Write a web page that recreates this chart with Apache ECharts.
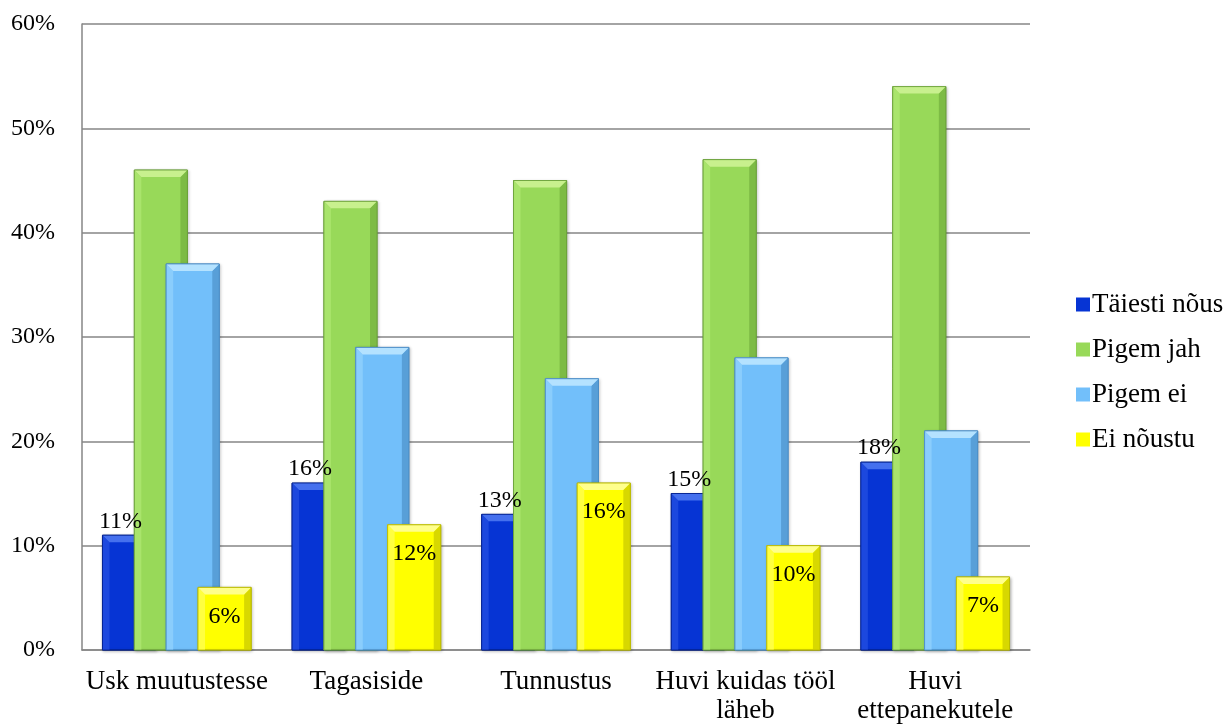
<!DOCTYPE html>
<html>
<head>
<meta charset="utf-8">
<script src="https://cdn.jsdelivr.net/npm/echarts@6/dist/echarts.min.js"></script>
<style>
  html, body { margin: 0; padding: 0; background: #fff; }
  #chart { width: 1225px; height: 725px; }
</style>
</head>
<body>
<div id="chart"></div>
<script>
// Survey answers per statement, in percent
const categories = ['Usk muutustesse', 'Tagasiside', 'Tunnustus', 'Huvi kuidas tööl\nläheb', 'Huvi\nettepanekutele'];
const seriesNames = ['Täiesti nõus', 'Pigem jah', 'Pigem ei', 'Ei nõustu'];
const taiestiNous = [11, 16, 13, 15, 18];
const pigemJah = [46, 43, 45, 47, 54];
const pigemEi = [37, 29, 26, 28, 21];
const eiNoustu = [6, 12, 16, 10, 7];
const yTicks = [0, 10, 20, 30, 40, 50, 60];

const values = [taiestiNous, pigemJah, pigemEi, eiNoustu];

// fill, top bevel, side highlight, dark side / edge
const palette = [
  { fill: '#0634d4', top: '#4570ee', left: '#1c48de', right: '#0426a8', edge: '#02208c' },
  { fill: '#98d959', top: '#c8f08e', left: '#a9e46c', right: '#7dbb45', edge: '#6a9e3a' },
  { fill: '#72bffa', top: '#b4e2ff', left: '#8acdfc', right: '#589fd8', edge: '#4a8cc4' },
  { fill: '#ffff00', top: '#ffff8c', left: '#ffff40', right: '#d8d800', edge: '#b8b800' }
];

const FONT = '"Liberation Serif", "Times New Roman", serif';
const BAR_RATIO = 0.28;   // bar width as share of the category band
const STEP_RATIO = 0.6;   // neighbouring bars overlap by 40%

function barRect(api, seriesIdx) {
  const idx = api.value(0);
  const val = api.value(1);
  const base = api.coord([idx, 0]);
  const top = api.coord([idx, val]);
  const band = api.size([1, 0])[0];
  const w = band * BAR_RATIO;
  const step = w * STEP_RATIO;
  const groupW = w + step * 3;
  const x = base[0] - groupW / 2 + seriesIdx * step;
  return { x: x, y: top[1], w: w, h: base[1] - top[1] };
}

function makeBarSeries(seriesIdx) {
  const c = palette[seriesIdx];
  return {
    name: seriesNames[seriesIdx],
    type: 'custom',
    z: 2 + seriesIdx,
    itemStyle: { color: c.fill },
    data: values[seriesIdx].map((v, i) => [i, v]),
    renderItem: function (params, api) {
      const r = barRect(api, seriesIdx);
      const b = Math.min(7, r.h / 2, r.w / 4);
      return {
        type: 'group',
        children: [
          { type: 'rect', shape: { x: r.x, y: r.y, width: r.w, height: r.h },
            style: { fill: c.fill, stroke: c.edge, lineWidth: 1,
                     shadowBlur: 3, shadowColor: 'rgba(0,0,0,0.25)', shadowOffsetX: 1, shadowOffsetY: 1 } },
          { type: 'polygon', shape: { points: [[r.x, r.y], [r.x + b, r.y + b], [r.x + b, r.y + r.h], [r.x, r.y + r.h]] },
            style: { fill: c.left } },
          { type: 'polygon', shape: { points: [[r.x + r.w, r.y], [r.x + r.w - b, r.y + b], [r.x + r.w - b, r.y + r.h], [r.x + r.w, r.y + r.h]] },
            style: { fill: c.right } },
          { type: 'polygon', shape: { points: [[r.x, r.y], [r.x + r.w, r.y], [r.x + r.w - b, r.y + b], [r.x + b, r.y + b]] },
            style: { fill: c.top } },
          { type: 'rect', shape: { x: r.x, y: r.y, width: r.w, height: r.h },
            style: { fill: 'none', stroke: c.edge, lineWidth: 0.8 } }
        ]
      };
    }
  };
}

function makeLabelSeries(seriesIdx, inside) {
  return {
    type: 'custom',
    z: 20,
    silent: true,
    data: values[seriesIdx].map((v, i) => [i, v]),
    renderItem: function (params, api) {
      const r = barRect(api, seriesIdx);
      return {
        type: 'text',
        style: {
          text: api.value(1) + '%',
          x: inside ? r.x + r.w / 2 : r.x + 18,
          y: inside ? r.y + 29 : r.y - 2,
          align: 'center',
          verticalAlign: inside ? 'middle' : 'bottom',
          font: '24px ' + FONT,
          fill: '#000'
        }
      };
    }
  };
}

const chart = echarts.init(document.getElementById('chart'), null, { renderer: 'canvas' });
chart.setOption({
  animation: false,
  backgroundColor: '#ffffff',
  grid: { left: 82, right: 195, top: 24, bottom: 75, containLabel: false },
  legend: {
    orient: 'vertical',
    left: 1071,
    top: 286,
    itemWidth: 14,
    itemHeight: 14,
    itemGap: 18,
    icon: 'rect',
    textStyle: { fontFamily: FONT, fontSize: 27, color: '#000', padding: [0, 0, 0, -3] },
    data: seriesNames
  },
  xAxis: {
    type: 'category',
    data: categories,
    axisLine: { show: true, lineStyle: { color: '#868686', width: 1.5 } },
    axisTick: { show: false },
    axisLabel: { fontFamily: FONT, fontSize: 27, color: '#000', margin: 17, lineHeight: 29, interval: 0 },
    splitLine: { show: false }
  },
  yAxis: {
    type: 'value',
    min: yTicks[0],
    max: yTicks[yTicks.length - 1],
    interval: 10,
    axisLine: { show: true, lineStyle: { color: '#868686', width: 1.5 } },
    axisTick: { show: false },
    axisLabel: { fontFamily: FONT, fontSize: 24, color: '#000', margin: 27, formatter: '{value}%' },
    splitLine: { show: true, lineStyle: { color: '#868686', width: 1.5 } }
  },
  series: [
    makeBarSeries(0), makeBarSeries(1), makeBarSeries(2), makeBarSeries(3),
    makeLabelSeries(0, false), makeLabelSeries(3, true)
  ]
});
</script>
</body>
</html>
